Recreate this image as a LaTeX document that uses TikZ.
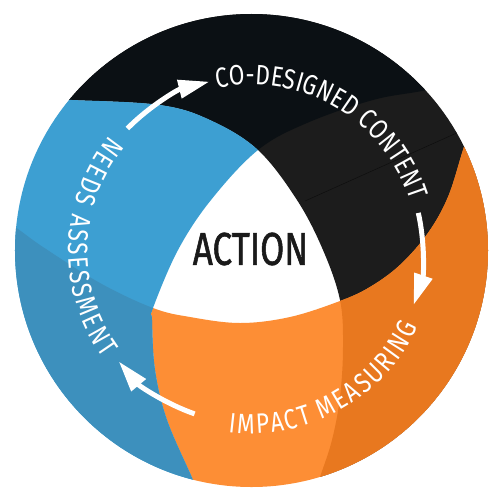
\documentclass[tikz,border=0pt]{standalone}
\usepackage{fontspec}
\setmainfont{Fira Sans}
\newfontfamily\ringfont[FakeStretch=0.81]{Fira Sans}
\newfontfamily\actfont[FakeStretch=0.76,FakeBold=1.2]{Fira Sans}
\usetikzlibrary{decorations.text,arrows.meta}
\definecolor{blueL}{HTML}{3D9FD2}
\definecolor{blueD}{HTML}{3D90BD}
\definecolor{blackD}{HTML}{0B1014}
\definecolor{blackL}{HTML}{1C1C1C}
\definecolor{orangeL}{HTML}{FD8E35}
\definecolor{orangeD}{HTML}{E8781F}
\definecolor{actcol}{HTML}{1A1A1A}
\definecolor{seam}{HTML}{0E0E0E}
\tikzset{
  curveX/.style={insert path={plot[smooth,tension=0.6] coordinates {(-251.5,152.5) (-179.5,150.5) (-91.5,145.5) (-41.5,130.5) (6.5,100.5) (45.5,50.5) (71.5,0.5) (88.5,-49.5) (91.5,-96.5) (88.5,-146.5) (80.5,-189.5) (68.5,-226.5) (53.5,-269.5)}}},
  curveY/.style={insert path={plot[smooth,tension=0.6] coordinates {(-271.5,45.5) (-236.5,23.5) (-208.5,3.5) (-151.5,-32.5) (-98.5,-57.5) (-61.5,-66.5) (-11.5,-72.5) (38.5,-66.5) (88.5,-50.5) (118.5,-36.5) (148.5,-14.5) (176.5,17.5) (196.5,53.5) (211.5,100.5) (226.5,147.5) (236.5,177.5)}}},
  curveZ/.style={insert path={plot[smooth,tension=0.6] coordinates {(238.5,175.5) (175.5,160.5) (121.5,150.5) (55.5,127.5) (6.5,100.5) (-40.5,50.5) (-73.5,0.5) (-98.5,-57.5) (-99.5,-69.5) (-96.5,-119.5) (-84.5,-169.5) (-58.5,-229.5) (-46.5,-259.5)}}},
  regRX/.style={curveX, insert path={-- (300,-300) -- (300,300) -- (-300,300) -- (-300,152.5) -- cycle}},
  regLX/.style={curveX, insert path={-- (-300,-300) -- (-300,152.5) -- cycle}},
  regBY/.style={curveY, insert path={-- (300,177.5) -- (300,-300) -- (-300,-300) -- (-300,45.5) -- cycle}},
  regLZ/.style={curveZ, insert path={-- (-300,-300) -- (-300,300) -- (300,300) -- (300,175.5) -- cycle}},
  regRZ/.style={curveZ, insert path={-- (300,-300) -- (300,175.5) -- cycle}},
  arr/.style={draw=white, line width=5pt, -{Triangle[length=31pt,width=18pt]}},
  ringtext/.style={decorate, decoration={text along path, text={|\ringfont\fontsize{28}{28}\selectfont\color{white}|#1}, text align={fit to path}}}
}
\begin{document}
\begin{tikzpicture}[x=1pt,y=1pt]
\useasboundingbox (-251.5,-245.5) rectangle (248.5,250.5);
\begin{scope}
  \clip (0,0) circle[radius=236.5];
  \fill[white] (0,0) circle[radius=236.5];
  \fill[blackL, regRX];
  \begin{scope}
    \clip[regRX];
    \fill[blackD, regLZ];
  \end{scope}
  \draw[seam, line width=0.5pt] (53.5,49.5) -- (218.5,123.5);
  \begin{scope}
    \clip[regBY];
    \fill[orangeL, regRZ];
    \clip[regRZ];
    \fill[orangeD, regRX];
  \end{scope}
  \begin{scope}
    \clip[regLX];
    \fill[blueL, regLZ];
    \clip[regLZ];
    \fill[blueD, regBY];
  \end{scope}
\end{scope}
\node[font=\actfont\fontsize{46}{46}\selectfont, text=actcol, inner sep=0pt] (act) at (-1,1.5) {ACTION};
\path[ringtext={CO-DESIGNED CONTENT}] (102:166) arc[start angle=102, end angle=17.5, radius=166];
\path[ringtext={NEEDS ASSESSMENT}] (141:183) arc[start angle=141, end angle=216, radius=183];
\path[ringtext={IMPACT MEASURING}] (262.7:183) arc[start angle=262.7, end angle=335.5, radius=183];
\draw[arr] (135.5:174) arc[start angle=135.5, end angle=104, radius=174];
\draw[arr] (12.7:171) arc[start angle=12.7, end angle=-18.6, radius=171];
\draw[arr] (250.8:173) arc[start angle=250.8, end angle=219.9, radius=173];
\end{tikzpicture}
\end{document}
